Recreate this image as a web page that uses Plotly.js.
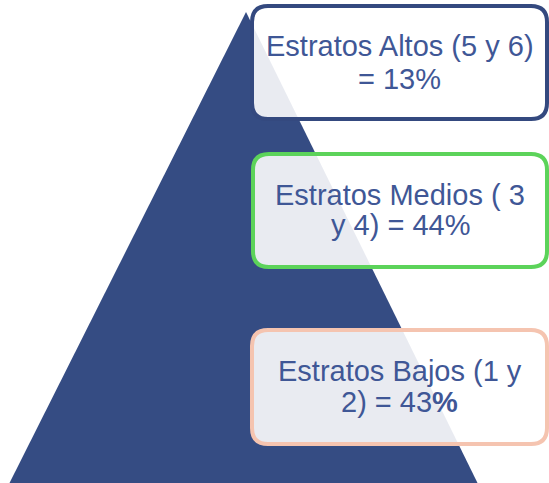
<!DOCTYPE html>
<html>
<head>
<meta charset="utf-8">
<script src="https://cdn.plot.ly/plotly-3.0.1.min.js"></script>
<style>html,body{margin:0;padding:0;background:#fff;}#chart{width:549px;height:483px;}</style>
</head>
<body>
<div id="chart"></div>
<script>
// Data
var categories = ["Estratos Altos", "Estratos Medios", "Estratos Bajos"];
var strata = ["(5 y 6)", "( 3 y 4)", "(1 y 2)"];
var percents = [13, 44, 43];
var line1 = ["Estratos Altos (5 y 6)", "Estratos Medios ( 3", "Estratos Bajos (1 y"];
var line2 = ["= 13%", "y 4) = 44%", "2) = 43<b>%</b>"];

// Layout geometry (pixels)
var W = 549, H = 483;
var boxColors = ["#34497f", "#5cd35a", "#f5c4b0"];
var boxes = [
  {x0: 252, x1: 547, y0: 6, y1: 119},
  {x0: 253, x1: 547, y0: 154, y1: 267},
  {x0: 252, x1: 547, y0: 330, y1: 444}
];
var lineY = [[46, 79], [195, 225], [371, 402]];
var tri = {ax: 246, ay: 12, lx: 8, rx: 479, by: 486};

function roundRect(b, r) {
  return "M" + (b.x0 + r) + "," + b.y0 +
    " L" + (b.x1 - r) + "," + b.y0 +
    " Q" + b.x1 + "," + b.y0 + " " + b.x1 + "," + (b.y0 + r) +
    " L" + b.x1 + "," + (b.y1 - r) +
    " Q" + b.x1 + "," + b.y1 + " " + (b.x1 - r) + "," + b.y1 +
    " L" + (b.x0 + r) + "," + b.y1 +
    " Q" + b.x0 + "," + b.y1 + " " + b.x0 + "," + (b.y1 - r) +
    " L" + b.x0 + "," + (b.y0 + r) +
    " Q" + b.x0 + "," + b.y0 + " " + (b.x0 + r) + "," + b.y0 + " Z";
}

var shapes = [{
  type: "path", xref: "x", yref: "y", layer: "below",
  path: "M" + tri.ax + "," + tri.ay + " L" + tri.rx + "," + tri.by + " L" + tri.lx + "," + tri.by + " Z",
  fillcolor: "#354c83", line: {width: 0}
}];
var annotations = [];
for (var i = 0; i < categories.length; i++) {
  shapes.push({
    type: "path", xref: "x", yref: "y", layer: "above",
    path: roundRect(boxes[i], 16),
    fillcolor: "rgba(255,255,255,0.89)",
    line: {color: boxColors[i], width: 4}
  });
  var cx = (boxes[i].x0 + boxes[i].x1) / 2;
  [line1[i], line2[i]].forEach(function (t, k) {
    annotations.push({
      x: cx, y: lineY[i][k], xref: "x", yref: "y",
      text: t, showarrow: false, xanchor: "center", yanchor: "middle",
      font: {family: "Liberation Sans, Arial, sans-serif", size: 29, color: "#3f5796"}
    });
  });
}

var layout = {
  width: W, height: H,
  margin: {l: 0, r: 0, t: 0, b: 0},
  paper_bgcolor: "#ffffff", plot_bgcolor: "#ffffff",
  xaxis: {range: [0, W], visible: false, fixedrange: true},
  yaxis: {range: [H, 0], visible: false, fixedrange: true},
  shapes: shapes,
  annotations: annotations,
  showlegend: false
};

Plotly.newPlot("chart", [{x: [], y: [], type: "scatter", hoverinfo: "skip"}], layout, {displayModeBar: false, staticPlot: true});
</script>
</body>
</html>
